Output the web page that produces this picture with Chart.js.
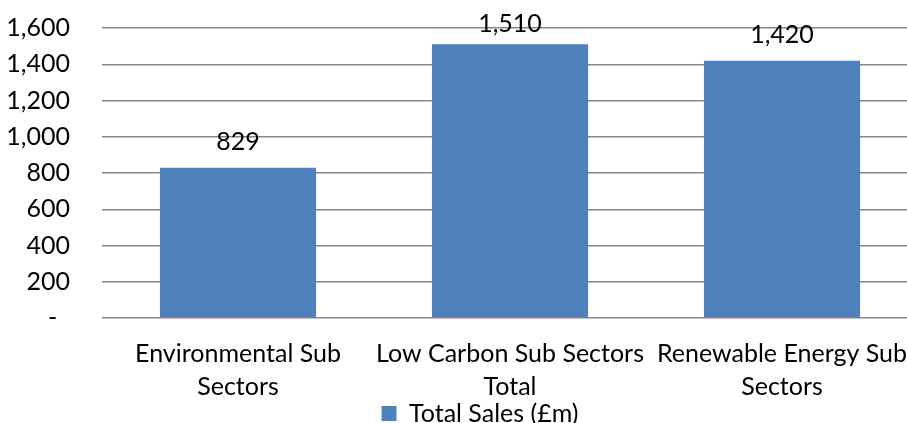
<!DOCTYPE html>
<html>
<head>
<meta charset="utf-8">
<script src="https://cdn.jsdelivr.net/npm/chart.js@4.4.1/dist/chart.umd.min.js"></script>
<style>
  html, body { margin: 0; padding: 0; background: #fff; overflow: hidden; }
  #wrap { width: 920px; height: 423px; }
</style>
</head>
<body>
<div id="wrap"><canvas id="chartSales" width="920" height="423"></canvas></div>
<script>
// ============ DATA ============
var categories = [
  ['Environmental Sub', 'Sectors'],
  ['Low Carbon Sub Sectors', 'Total'],
  ['Renewable Energy Sub', 'Sectors']
];
var salesValues = [829, 1510, 1420];
var yTicks = [0, 200, 400, 600, 800, 1000, 1200, 1400, 1600];
var seriesName = 'Total Sales (£m)';

var FONT = "Lato, 'Open Sans', sans-serif";
var FSIZE = 25;

// value labels above bars (kept inside plot area like Excel)
var barLabels = {
  id: 'barLabels',
  afterLayout: function(chart) {
    // Excel centres the legend a bit right of the canvas middle
    if (chart.legend) {
      chart.legend.left += 21;
      chart.legend.right += 21;
    }
  },
  afterDatasetsDraw: function(chart) {
    var ctx = chart.ctx;
    var meta = chart.getDatasetMeta(0);
    ctx.save();
    ctx.font = FSIZE + 'px ' + FONT;
    ctx.fillStyle = '#000';
    ctx.textAlign = 'center';
    ctx.textBaseline = 'alphabetic';
    meta.data.forEach(function(bar, i) {
      var y = Math.max(bar.y - 18, chart.chartArea.top + 4);
      ctx.fillText(salesValues[i].toLocaleString('en-US'), bar.x, y);
    });
    ctx.restore();
  }
};

new Chart(document.getElementById('chartSales'), {
  type: 'bar',
  data: {
    labels: categories,
    datasets: [{
      label: seriesName,
      data: salesValues,
      backgroundColor: '#4F81BD',
      borderWidth: 0,
      barPercentage: 0.574,
      categoryPercentage: 1
    }]
  },
  options: {
    responsive: false,
    animation: false,
    layout: { padding: { top: 28, right: 2, left: 0, bottom: 0 } },
    plugins: {
      legend: {
        position: 'bottom',
        maxHeight: 24,
        labels: {
          font: { family: FONT, size: FSIZE },
          color: '#000',
          boxWidth: 15,
          boxHeight: 15,
          padding: 2
        }
      },
      tooltip: { enabled: false }
    },
    scales: {
      x: {
        grid: { display: false },
        border: { display: false },
        afterFit: function(scale) {
          scale.height = 81;
          scale.paddingLeft = 0;
          scale.paddingRight = 0;
        },
        ticks: {
          font: { family: FONT, size: FSIZE, lineHeight: 1.32 },
          color: '#000',
          maxRotation: 0,
          autoSkip: false,
          padding: 11
        }
      },
      y: {
        min: 0,
        max: 1600,
        afterBuildTicks: function(scale) {
          scale.ticks = yTicks.map(function(v) { return { value: v }; });
        },
        afterFit: function(scale) {
          scale.width = 102;
          scale.paddingTop = 0;
          scale.paddingBottom = 0;
        },
        grid: { color: '#868686', lineWidth: 1.5, drawTicks: false },
        border: { display: false },
        ticks: {
          font: { family: FONT, size: FSIZE },
          color: '#000',
          autoSkip: false,
          padding: 32,
          callback: function(v) { return v === 0 ? '-  ' : v.toLocaleString('en-US'); }
        }
      }
    }
  },
  plugins: [barLabels]
});
</script>
</body>
</html>
